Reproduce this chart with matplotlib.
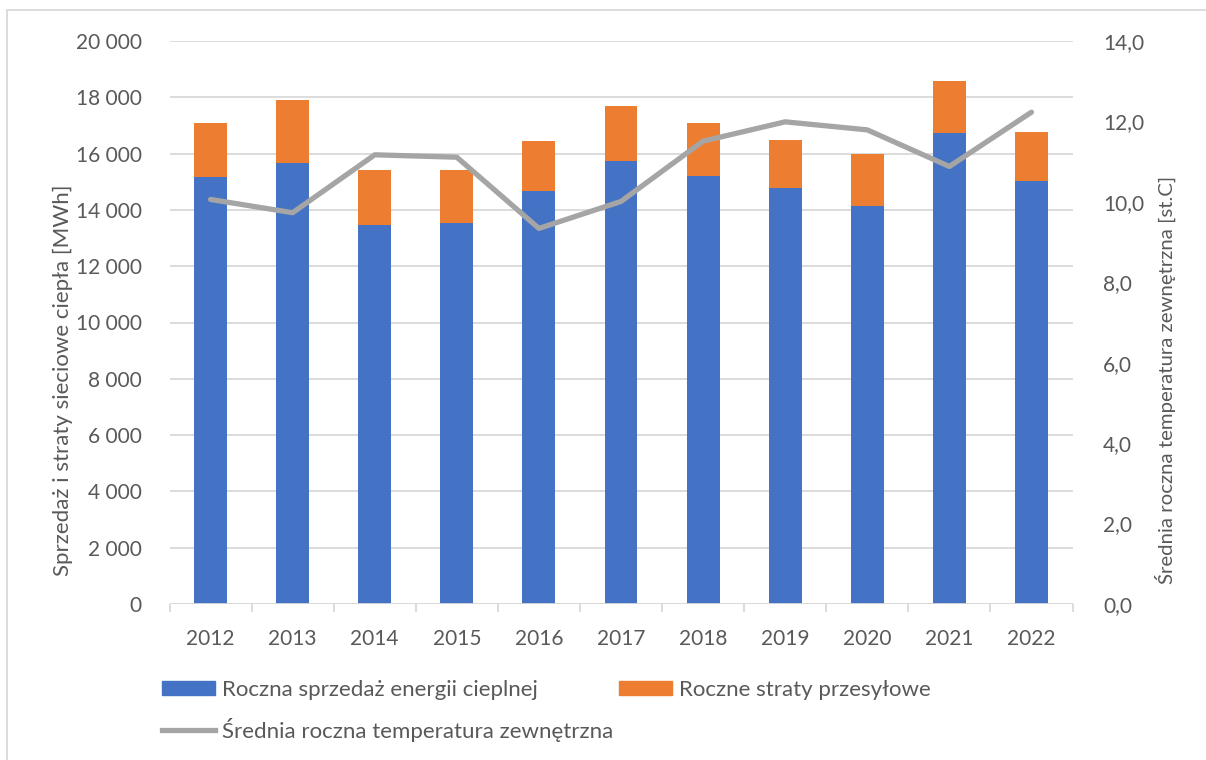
import numpy as np
import matplotlib.pyplot as plt
from matplotlib.patches import Patch, Rectangle
from matplotlib.lines import Line2D
from matplotlib.ticker import FuncFormatter, MultipleLocator, FixedLocator

years = ["2012", "2013", "2014", "2015", "2016", "2017", "2018", "2019", "2020", "2021", "2022"]
sales = [15160, 15660, 13470, 13550, 14680, 15750, 15200, 14790, 14140, 16730, 15020]
totals = [17080, 17900, 15420, 15410, 16450, 17700, 17100, 16470, 16000, 18580, 16760]
losses = [t - s for t, s in zip(totals, sales)]
temperature = [10.06, 9.73, 11.17, 11.11, 9.34, 10.01, 11.51, 11.99, 11.79, 10.88, 12.23]

BLUE = "#4472C4"
ORANGE = "#ED7D31"
GRAY = "#A5A5A5"
TEXT = "#595959"
GRID = "#D9D9D9"

plt.rcParams['font.family'] = ['Lato', 'DejaVu Sans']
plt.rcParams['font.size'] = 15

fig = plt.figure(figsize=(12.06, 7.6), dpi=100)
ax = fig.add_axes([169.5 / 1206, 156 / 760, 903 / 1206, 563 / 760])
ax2 = ax.twinx()

x = np.arange(len(years))
ax.bar(x, sales, width=0.4, color=BLUE, zorder=2)
ax.bar(x, losses, width=0.4, bottom=sales, color=ORANGE, zorder=2)
ax2.plot(x, temperature, color=GRAY, lw=3.8, solid_capstyle='round', solid_joinstyle='round')

ax.set_xlim(-0.5, len(years) - 0.5)
ax.set_ylim(0, 20000)
ax2.set_ylim(0, 14)
ax.yaxis.set_major_locator(MultipleLocator(2000))
ax2.yaxis.set_major_locator(MultipleLocator(2))
ax.yaxis.set_major_formatter(FuncFormatter(lambda v, p: f"{int(v):,}".replace(",", " ")))
ax2.yaxis.set_major_formatter(FuncFormatter(lambda v, p: f"{v:.1f}".replace(".", ",")))

ax.grid(axis='y', color=GRID, lw=1.3, zorder=0)
ax.set_axisbelow(True)
for a in (ax, ax2):
    for s in ("top", "left", "right", "bottom"):
        a.spines[s].set_visible(False)
ax.axhline(0, color=GRID, lw=1.3, zorder=3)

ax.set_xticks(x)
ax.set_xticklabels(years)
ax.xaxis.set_minor_locator(FixedLocator(np.arange(-0.5, len(years), 1.0)))
ax.tick_params(axis='x', which='major', length=0, pad=18, colors=TEXT)
ax.tick_params(axis='x', which='minor', length=6, color=GRID, width=1.3)
ax.tick_params(axis='y', length=0, pad=20, colors=TEXT)
ax2.tick_params(axis='y', length=0, pad=22, colors=TEXT)

ax.set_ylabel("Sprzedaż i straty sieciowe ciepła [MWh]", color=TEXT, fontsize=16)
ax.yaxis.set_label_coords(73 / 1206, 0.5, transform=fig.transFigure)
ax2.set_ylabel("Średnia roczna temperatura zewnętrzna [st.C]", color=TEXT, fontsize=14.7,
               rotation=90)
ax2.yaxis.set_label_coords(1155 / 1206, 0.5, transform=fig.transFigure)

handles = [
    Patch(color=BLUE, label="Roczna sprzedaż energii cieplnej"),
    Line2D([0], [0], color=GRAY, lw=3.8, label="Średnia roczna temperatura zewnętrzna"),
    Patch(color=ORANGE, label="Roczne straty przesyłowe"),
]
leg = fig.legend(handles=handles, ncol=2, loc='upper left',
                 bbox_to_anchor=(144 / 1206, 1 - 662 / 760), frameon=False,
                 handlelength=2.4, handleheight=0.65, handletextpad=0.3,
                 columnspacing=0.25, labelspacing=0.8, fontsize=16,
                 borderpad=0.3)
for t in leg.get_texts():
    t.set_color(TEXT)

# chart area border
fig.patches.append(Rectangle((7 / 1206, -0.01), 1.02, 1 - 10 / 760 + 0.01,
                             transform=fig.transFigure, fill=False,
                             edgecolor=GRID, lw=1.3))

fig.savefig("out.png", dpi=100)
